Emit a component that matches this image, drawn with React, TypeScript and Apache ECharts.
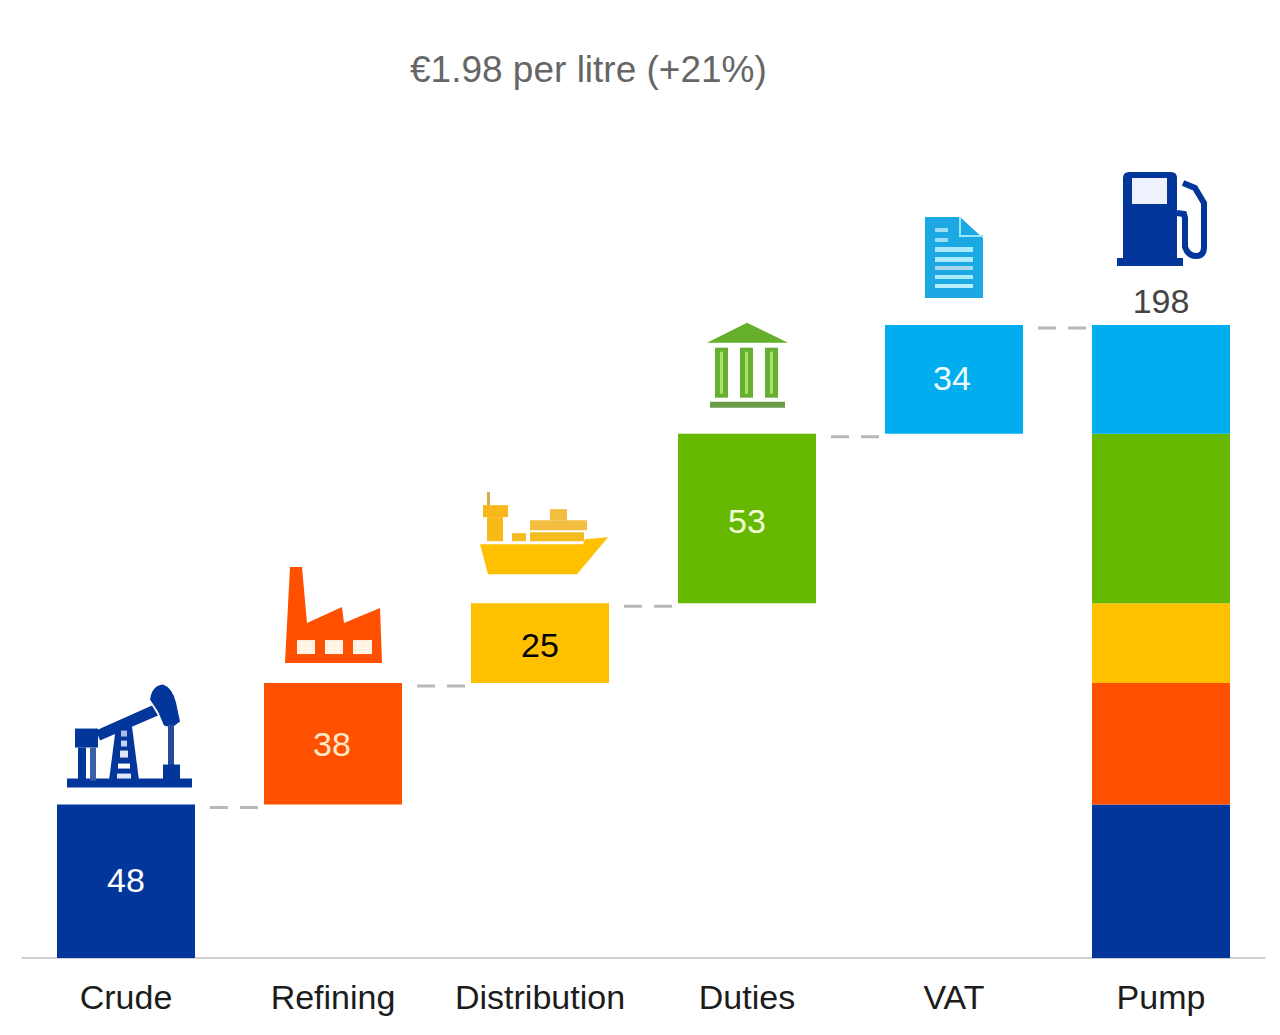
import React, { useEffect, useRef } from "react";
import * as echarts from "echarts";

const categories = ["Crude", "Refining", "Distribution", "Duties", "VAT", "Pump"];
const offsets = [0, 48, 86, 111, 164, 0];
const crude = [48, null, null, null, null, 48];
const refining = [null, 38, null, null, null, 38];
const distribution = [null, null, 25, null, null, 25];
const duties = [null, null, null, 53, null, 53];
const vat = [null, null, null, null, 34, 34];
const barTops = [48, 86, 111, 164, 198, 198];
const pumpTotal = 198;
const titleText = "€1.98 per litre (+21%)";

const BLUE = "#03369B";
const ORANGE = "#FF5000";
const YELLOW = "#FFC000";
const GREEN = "#66B800";
const CYAN = "#00AEEF";

type Part = { d: string; fill?: string; stroke?: string; lineWidth?: number };
type Icon = { ox: number; oy: number; parts: Part[] };

const rect = (x0: number, y0: number, x1: number, y1: number) =>
  `M${x0} ${y0}L${x1} ${y0}L${x1} ${y1}L${x0} ${y1}Z`;

const icons: Icon[] = [
  {
    ox: 126, oy: 805,
    parts: [
      { d: rect(67, 779, 192, 788), fill: BLUE },
      { d: rect(75, 729, 98, 748), fill: BLUE },
      { d: rect(78, 748, 86, 781), fill: BLUE },
      { d: rect(90, 748, 96, 781), fill: "#3c5fa8" },
      { d: "M96 731L152 706L158 716L100 741Z", fill: BLUE },
      { d: "M150 700Q152 686 163 685Q172 688 176 703L180 722L172 728L164 726L158 712Z", fill: BLUE },
      { d: rect(168, 725, 174, 768), fill: "#234a9e" },
      { d: rect(163, 765, 180, 781), fill: BLUE },
      { d: "M116 727L132 727L139 781L109 781Z", fill: BLUE },
      { d: rect(121, 731, 127, 737), fill: "#a9bce6" },
      { d: rect(121, 741, 127, 747), fill: "#c3d0ee" },
      { d: rect(120, 751, 128, 758), fill: "#dfe6f7" },
      { d: rect(118, 764, 130, 769), fill: "#ffffff" },
      { d: rect(117, 774, 131, 779), fill: "#dfe6f7" },
    ],
  },
  {
    ox: 333, oy: 683,
    parts: [
      { d: "M285 663L290 567L302 567L307 623L342 607L344 623L380 608L382 663Z", fill: ORANGE },
      { d: rect(297, 640, 315, 654), fill: "#fff4e6" },
      { d: rect(325, 640, 343, 654), fill: "#fff4e6" },
      { d: rect(353, 640, 372, 654), fill: "#fff4e6" },
    ],
  },
  {
    ox: 540, oy: 603,
    parts: [
      { d: "M480 544L583 544L585 539L608 537L577 574L488 574Z", fill: YELLOW },
      { d: rect(483, 505, 508, 517), fill: "#F9B81A" },
      { d: rect(487, 517, 503, 541), fill: "#F9B81A" },
      { d: rect(487, 492, 490, 505), fill: "#D9A94A" },
      { d: rect(512, 533, 526, 541), fill: "#F5BC20" },
      { d: rect(530, 532, 584, 541), fill: "#F5BC20" },
      { d: rect(530, 520, 587, 530), fill: "#F2BE40" },
      { d: rect(550, 509, 567, 520), fill: "#F2BE40" },
    ],
  },
  {
    ox: 747, oy: 434,
    parts: [
      { d: "M707 343L747 323L788 343Z", fill: "#66AF2A" },
      { d: rect(715, 348, 728, 398), fill: "#66AF33" },
      { d: rect(740, 348, 753, 398), fill: "#66AF33" },
      { d: rect(765, 348, 778, 398), fill: "#66AF33" },
      { d: rect(720, 352, 723, 394), fill: "#A6E36A" },
      { d: rect(745, 352, 748, 394), fill: "#A6E36A" },
      { d: rect(770, 352, 773, 394), fill: "#A6E36A" },
      { d: rect(710, 402, 785, 408), fill: "#6C9C48" },
    ],
  },
  {
    ox: 954, oy: 325,
    parts: [
      { d: "M925 217L960 217L983 238L983 298L925 298Z", fill: "#1CA8E2" },
      { d: "M960 217L960 236L983 236", stroke: "#9BE6FF", lineWidth: 2 },
      { d: rect(935, 228, 948, 232), fill: "#9BDDF5" },
      { d: rect(935, 238, 948, 242), fill: "#9BDDF5" },
      { d: rect(935, 247, 973, 252), fill: "#A8EBFF" },
      { d: rect(935, 257, 973, 262), fill: "#A8EBFF" },
      { d: rect(935, 266, 973, 270), fill: "#A8D8EE" },
      { d: rect(935, 275, 973, 279), fill: "#A8EBFF" },
      { d: rect(935, 284, 973, 288), fill: "#B6EFFF" },
    ],
  },
  {
    ox: 1161, oy: 325,
    parts: [
      { d: "M1123 178Q1123 172 1129 172L1171 172Q1177 172 1177 178L1177 260L1123 260Z", fill: BLUE },
      { d: rect(1117, 258, 1183, 266), fill: BLUE },
      { d: rect(1132, 178, 1167, 204), fill: "#EEF2FC" },
      {
        d: "M1177 213L1184 214L1185 218L1185 247Q1188 256 1196 256Q1204 256 1204 247L1204 203L1195 188L1183 183",
        stroke: BLUE,
        lineWidth: 6,
      },
    ],
  },
];

const segments: {
  name: string;
  data: (number | null)[];
  color: string;
  labelColor: string;
  own: number;
  nudge: number[];
}[] = [
  { name: "Crude", data: crude, color: BLUE, labelColor: "#ffffff", own: 0, nudge: [0, -1] },
  { name: "Refining", data: refining, color: ORANGE, labelColor: "#FFE9C8", own: 1, nudge: [-1, 0] },
  { name: "Distribution", data: distribution, color: YELLOW, labelColor: "#000000", own: 2, nudge: [0, 2] },
  { name: "Duties", data: duties, color: GREEN, labelColor: "#F0FFD8", own: 3, nudge: [0, 3] },
  { name: "VAT", data: vat, color: CYAN, labelColor: "#EFFBFF", own: 4, nudge: [-2, -1] },
];

const FONT = "'Liberation Sans', Arial, sans-serif";

export default function App() {
  const ref = useRef<HTMLDivElement>(null);

  useEffect(() => {
    if (!ref.current) return;
    const chart = echarts.init(ref.current, undefined, { renderer: "svg" });

    const option: any = {
      animation: false,
      backgroundColor: "#ffffff",
      title: {
        text: titleText,
        left: 405,
        top: 46,
        textStyle: { color: "#666666", fontSize: 37, fontWeight: "normal", fontFamily: FONT },
      },
      grid: { left: 22.5, right: 15.5, top: 158.76, bottom: 77 },
      xAxis: {
        type: "category",
        data: categories,
        axisTick: { show: false },
        axisLine: { lineStyle: { color: "#cfcfcf", width: 2 } },
        axisLabel: { color: "#1c1c1c", fontSize: 34, fontFamily: FONT, margin: 22, interval: 0 },
      },
      yAxis: { type: "value", min: 0, max: 250, show: false },
      series: [
        {
          name: "offset",
          type: "bar",
          stack: "cost",
          barCategoryGap: "33.33%",
          data: offsets,
          itemStyle: { color: "transparent" },
          silent: true,
        },
        ...segments.map((s) => ({
          name: s.name,
          type: "bar",
          stack: "cost",
          itemStyle: { color: s.color },
          data: s.data.map((v, i) =>
            i === s.own
              ? {
                  value: v,
                  label: {
                    show: true,
                    position: "inside",
                    offset: s.nudge,
                    color: s.labelColor,
                    fontSize: 34,
                    fontFamily: FONT,
                  },
                }
              : { value: v, label: { show: false } },
          ),
        })),
        {
          name: "connectors",
          type: "custom",
          silent: true,
          z: 3,
          data: barTops.slice(0, 5).map((v, i) => [i, v]),
          encode: { x: 0, y: 1 },
          renderItem: (_p: any, api: any) => {
            const i = api.value(0);
            const v = api.value(1);
            const a = api.coord([i, v]);
            const b = api.coord([i + 1, v]);
            const barW = (api.size([1, 0])[0] * 2) / 3;
            return {
              type: "line",
              shape: { x1: a[0] + barW / 2 + 15, y1: a[1] + 3, x2: b[0] - barW / 2, y2: b[1] + 3 },
              style: { stroke: "#b8b8b8", lineWidth: 3, lineDash: [18, 12], fill: null },
            };
          },
        },
        {
          name: "icons",
          type: "custom",
          silent: true,
          z: 4,
          data: barTops.map((v, i) => [i, v]),
          encode: { x: 0, y: 1 },
          renderItem: (_p: any, api: any) => {
            const i = api.value(0);
            const c = api.coord([i, api.value(1)]);
            const icon = icons[i];
            return {
              type: "group",
              x: c[0] - icon.ox,
              y: c[1] - icon.oy,
              children: icon.parts.map((p) => ({
                type: "path",
                shape: { pathData: p.d },
                style: {
                  fill: p.fill ?? "none",
                  stroke: p.stroke ?? "none",
                  lineWidth: p.lineWidth ?? 0,
                },
              })),
            };
          },
        },
        {
          name: "total",
          type: "custom",
          silent: true,
          z: 5,
          data: [[5, pumpTotal]],
          encode: { x: 0, y: 1 },
          renderItem: (_p: any, api: any) => {
            const c = api.coord([api.value(0), api.value(1)]);
            return {
              type: "text",
              x: c[0],
              y: c[1] - 24,
              style: {
                text: String(api.value(1)),
                fill: "#444444",
                fontSize: 34,
                fontFamily: FONT,
                align: "center",
                verticalAlign: "middle",
              },
            };
          },
        },
      ],
    };

    chart.setOption(option);
    return () => chart.dispose();
  }, []);

  return (
    <div
      ref={ref}
      style={{ position: "absolute", left: 0, top: 0, width: 1280, height: 1035 }}
    />
  );
}
